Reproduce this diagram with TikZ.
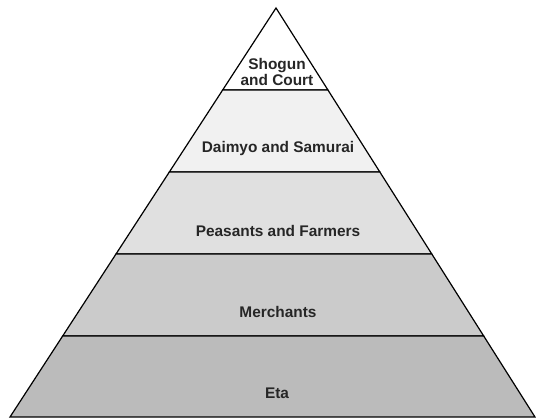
\documentclass[tikz,border=0pt]{standalone}
\usepackage{fontspec}
\setmainfont{Liberation Sans}
\usetikzlibrary{calc}
\definecolor{daimyogray}{HTML}{F1F1F1}
\definecolor{peasantgray}{HTML}{E0E0E0}
\definecolor{merchantgray}{HTML}{CBCBCB}
\definecolor{etagray}{HTML}{BBBBBB}
\tikzset{
  band/.style={draw=black,line width=1.2pt,line join=miter},
  rank/.style={font=\fontsize{15.4}{16}\selectfont\bfseries,text=black!85,align=center,inner sep=0pt}
}
\begin{document}
\begin{tikzpicture}[x=1pt,y=-1pt]
\useasboundingbox (0,0) rectangle (536,419);
\coordinate (apex) at (276,8);
\coordinate (bl) at (10,417);
\coordinate (br) at (535,417);
\coordinate (l1) at ($(apex)!0.2005!(bl)$);
\coordinate (r1) at ($(apex)!0.2005!(br)$);
\coordinate (l2) at ($(apex)!0.401!(bl)$);
\coordinate (r2) at ($(apex)!0.401!(br)$);
\coordinate (l3) at ($(apex)!0.6015!(bl)$);
\coordinate (r3) at ($(apex)!0.6015!(br)$);
\coordinate (l4) at ($(apex)!0.802!(bl)$);
\coordinate (r4) at ($(apex)!0.802!(br)$);
\draw[band,fill=white] (apex) -- (r1) -- (l1) -- cycle;
\draw[band,fill=daimyogray] (l1) -- (r1) -- (r2) -- (l2) -- cycle;
\draw[band,fill=peasantgray] (l2) -- (r2) -- (r3) -- (l3) -- cycle;
\draw[band,fill=merchantgray] (l3) -- (r3) -- (r4) -- (l4) -- cycle;
\draw[band,fill=etagray] (l4) -- (r4) -- (br) -- (bl) -- cycle;
\node[rank] (shogun) at (277,72) {Shogun\\and Court};
\node[rank] (daimyo) at (278,149) {Daimyo and Samurai};
\node[rank] (peasants) at (278,231) {Peasants and Farmers};
\node[rank] (merchants) at (278,312) {Merchants};
\node[rank] (eta) at (277,393) {Eta};
\end{tikzpicture}
\end{document}
